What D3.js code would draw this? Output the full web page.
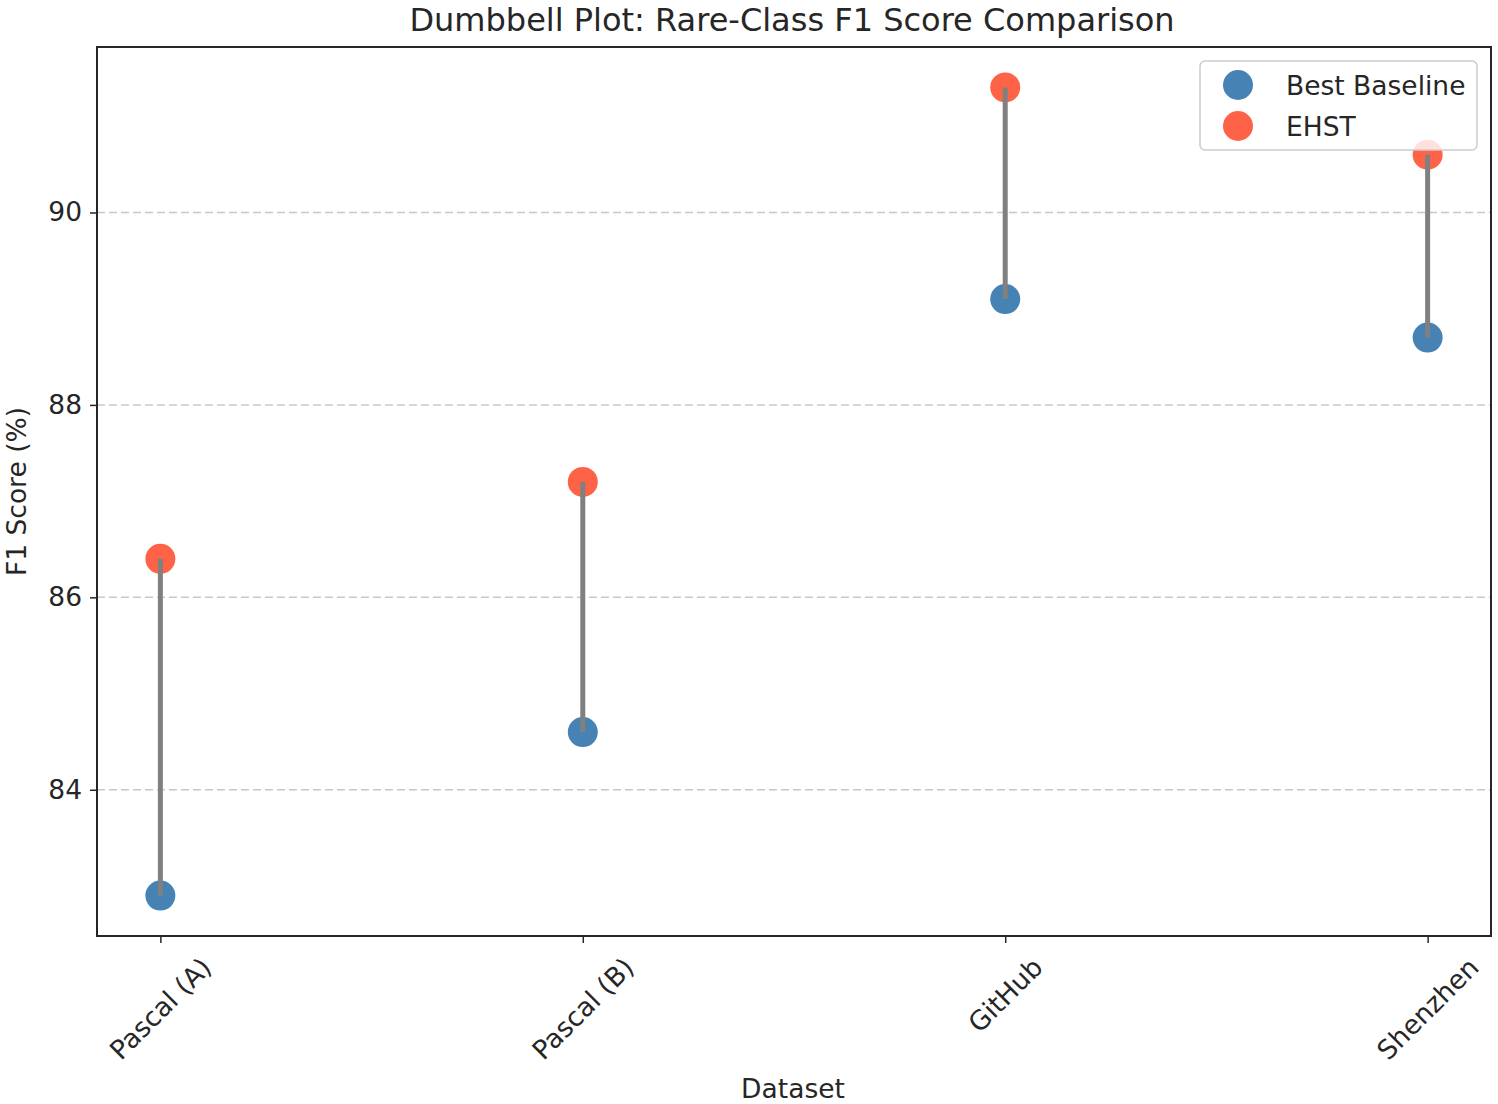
<!DOCTYPE html>
<html><head><meta charset="utf-8">
<script src="https://cdn.jsdelivr.net/npm/d3@7"></script>
<style>body{margin:0;background:#fff}text{font-family:"DejaVu Sans",sans-serif;fill:#262626}</style>
</head><body><svg id="c" width="1498" height="1104"></svg>
<script>
const datasets = ["Pascal (A)", "Pascal (B)", "GitHub", "Shenzhen"];
const baseline = [82.9, 84.6, 89.1, 88.7];
const ehst = [86.4, 87.2, 91.3, 90.6];
const yTicks = [84, 86, 88, 90];
const seriesNames = ["Best Baseline", "EHST"];
const colors = ["#4682B4", "#FF6347"];

const FS = 26.5;
const svg = d3.select("#c");
const L = 97, R = 1491, T = 47, B = 936;
const all = baseline.concat(ehst);
const mn = d3.min(all), mx = d3.max(all), pad = (mx - mn) * 0.05;
const x = d3.scaleLinear().domain([-0.15, datasets.length - 1 + 0.15]).range([L, R]);
const y = d3.scaleLinear().domain([mn - pad, mx + pad]).range([B, T]);

// grid
svg.append("g").selectAll("line").data(yTicks).join("line")
  .attr("x1", L).attr("x2", R).attr("y1", d => y(d)).attr("y2", d => y(d))
  .attr("stroke", "#b0b0b0").attr("stroke-opacity", 0.7).attr("stroke-width", 1.5)
  .attr("stroke-dasharray", "8,4");

// axes
const ya = svg.append("g").attr("transform", `translate(${L},0)`)
  .call(d3.axisLeft(y).tickValues(yTicks).tickSize(7).tickPadding(8).tickFormat(d3.format("d")));
ya.select(".domain").remove();
ya.selectAll("text").style("font-size", FS + "px").attr("fill", "#262626").style("font-family", "DejaVu Sans");
ya.selectAll("line").attr("stroke", "#262626").attr("stroke-width", 1.5);

const xa = svg.append("g").attr("transform", `translate(0,${B})`)
  .call(d3.axisBottom(x).tickValues(d3.range(datasets.length)).tickSize(7).tickFormat(""));
xa.select(".domain").remove();
xa.selectAll("line").attr("stroke", "#262626").attr("stroke-width", 1.5);

const xl = svg.append("g").selectAll("text").data(datasets).join("text")
  .text(d => d).style("font-size", FS + "px")
  .attr("text-anchor", "middle").attr("dominant-baseline", "central");
xl.each(function(d, i) {
  const w = this.getComputedTextLength(), h = FS;
  const s = Math.SQRT1_2;
  const bh = (w + h) * s;
  d3.select(this).attr("transform", `translate(${x(i)},${B + 17 + bh / 2}) rotate(-45)`);
});

// dumbbell
const g = svg.append("g");
g.selectAll("circle.b").data(baseline).join("circle").attr("class", "b")
  .attr("cx", (d, i) => x(i)).attr("cy", d => y(d)).attr("r", 15).attr("fill", colors[0]);
g.selectAll("circle.e").data(ehst).join("circle").attr("class", "e")
  .attr("cx", (d, i) => x(i)).attr("cy", d => y(d)).attr("r", 15).attr("fill", colors[1]);
g.selectAll("line").data(datasets).join("line")
  .attr("x1", (d, i) => x(i)).attr("x2", (d, i) => x(i))
  .attr("y1", (d, i) => y(baseline[i])).attr("y2", (d, i) => y(ehst[i]))
  .attr("stroke", "#808080").attr("stroke-width", 5);

// frame
svg.append("rect").attr("x", L).attr("y", T).attr("width", R - L).attr("height", B - T)
  .attr("fill", "none").attr("stroke", "#262626").attr("stroke-width", 2);

// title & labels
svg.append("text").attr("x", (L + R) / 2 - 2).attr("y", 31).attr("text-anchor", "middle")
  .style("font-size", "32px").text("Dumbbell Plot: Rare-Class F1 Score Comparison");
svg.append("text").attr("x", (L + R) / 2 - 1).attr("y", 1098).attr("text-anchor", "middle")
  .style("font-size", FS + "px").text("Dataset");
svg.append("text").attr("transform", `translate(26,${(T + B) / 2}) rotate(-90)`).attr("text-anchor", "middle")
  .style("font-size", FS + "px").text("F1 Score (%)");

// legend
const lg = svg.append("g");
lg.append("rect").attr("x", 1200).attr("y", 61).attr("width", 277).attr("height", 89).attr("rx", 5)
  .attr("fill", "#fff").attr("fill-opacity", 0.8).attr("stroke", "#cccccc").attr("stroke-width", 1.5);
seriesNames.forEach((n, i) => {
  lg.append("circle").attr("cx", 1238).attr("cy", 85 + i * 41).attr("r", 15).attr("fill", colors[i]);
  lg.append("text").attr("x", 1286).attr("y", 85 + i * 41).attr("dominant-baseline", "central")
    .style("font-size", FS + "px").text(n);
});
</script></body></html>
